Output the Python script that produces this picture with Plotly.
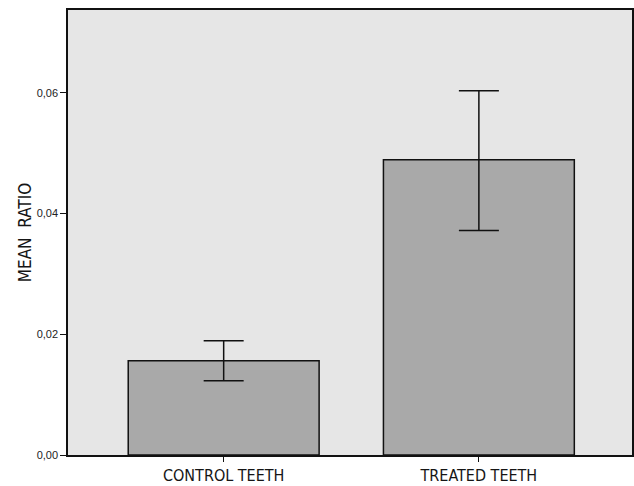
import plotly.graph_objects as go

categories = ["CONTROL TEETH", "TREATED TEETH"]
mean_ratio = [0.01563, 0.04888]
ci_upper = [0.01894, 0.06032]
ci_lower = [0.01231, 0.03717]
y_ticks = [0.0, 0.02, 0.04, 0.06]

err_plus = [u - m for u, m in zip(ci_upper, mean_ratio)]
err_minus = [m - l for m, l in zip(mean_ratio, ci_lower)]

NARROW = "DejaVu Sans Condensed, Liberation Sans Narrow, Liberation Sans, Arial"

fig = go.Figure()
fig.add_trace(go.Bar(
    x=[0, 1],
    y=mean_ratio,
    width=0.748,
    marker=dict(color="#a9a9a9", line=dict(color="#111111", width=1.5)),
    error_y=dict(type="data", symmetric=False, array=err_plus, arrayminus=err_minus,
                 color="#111111", thickness=1.5, width=20),
))

fig.update_layout(
    width=634, height=486,
    margin=dict(l=68, r=2, t=10, b=31, autoexpand=False),
    paper_bgcolor="white",
    plot_bgcolor="#e6e6e6",
    separators=",.",
    showlegend=False,
    font=dict(family=NARROW, color="#151515"),
)
fig.update_xaxes(
    range=[-0.61, 1.60],
    tickmode="array", tickvals=[0, 1], ticktext=categories,
    ticks="outside", ticklen=5, tickcolor="#111111", tickwidth=1,
    tickfont=dict(size=16, family=NARROW, color="#151515"),
    showline=True, linecolor="#111111", linewidth=1.5, mirror=True,
    showgrid=False, zeroline=False, automargin=False,
)
fig.update_yaxes(
    range=[0, 0.0737],
    tickmode="array", tickvals=y_ticks, tickformat=".2f",
    ticks="outside", ticklen=6, tickcolor="#111111", tickwidth=1,
    tickfont=dict(size=11, family="Liberation Sans, Arial", color="#222222"),
    title=dict(text="MEAN  RATIO", font=dict(size=17, family=NARROW, color="#151515"), standoff=1),
    showline=True, linecolor="#111111", linewidth=1.5, mirror=True,
    showgrid=False, zeroline=False, automargin=False,
)

fig.write_html(
    "out.html",
    config={"displayModeBar": False},
    post_script="document.body.style.margin='0';document.body.style.overflow='hidden';",
)
